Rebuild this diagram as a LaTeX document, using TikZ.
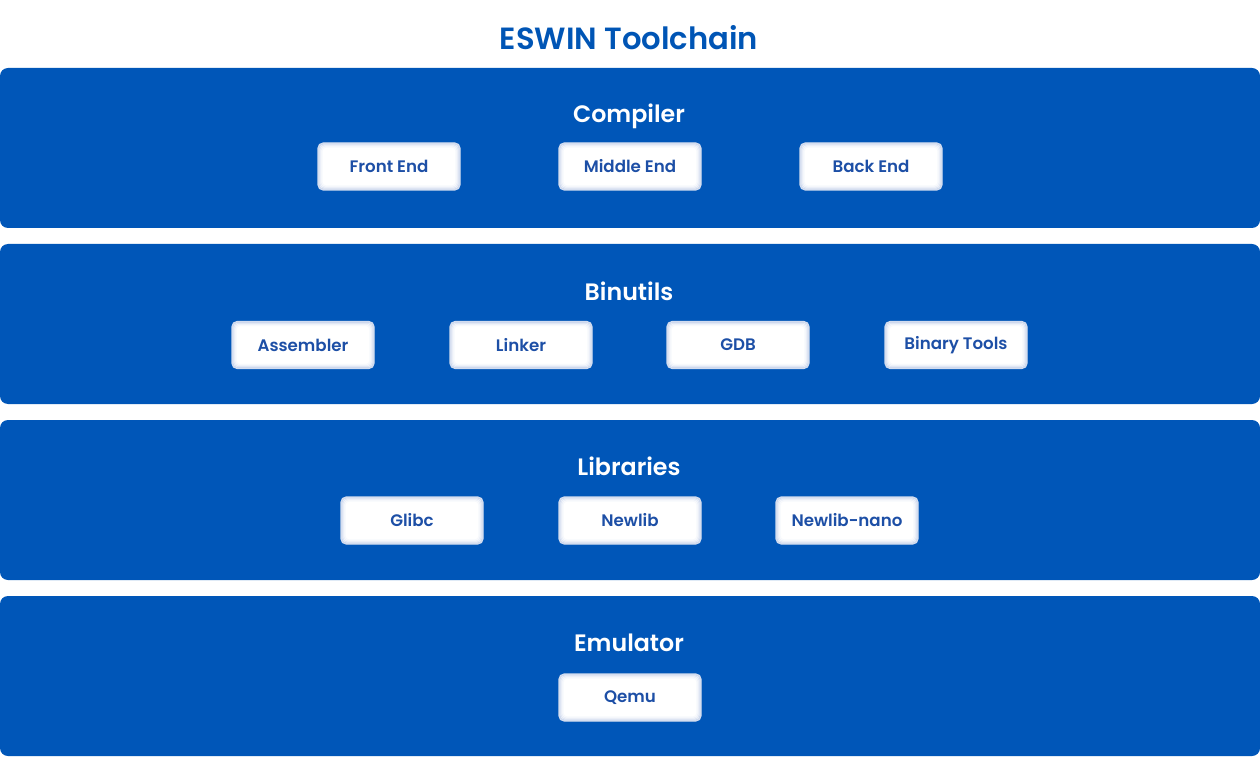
\documentclass[tikz,border=0pt]{standalone}
\usepackage{fontspec}
\setmainfont{Poppins}
\newfontfamily\boxfont{Poppins SemiBold}
\usetikzlibrary{positioning}
\definecolor{bandblue}{HTML}{0056B8}
\definecolor{titleblue}{HTML}{0055B5}
\definecolor{boxtext}{HTML}{1D4FA6}
\definecolor{boxedge}{HTML}{BFCDE8}

\tikzset{
  band/.style={fill=bandblue, draw=none, rounded corners=6},
  bandtitle/.style={text=white, font=\boxfont\fontsize{17.8}{21}\selectfont},
  toolbox/.style={rectangle, rounded corners=4, fill=white, draw=boxedge!70, line width=1,
    minimum width=142*0.75pt, minimum height=47*0.75pt, inner sep=0pt,
    text=boxtext, font=\boxfont\fontsize{12.5}{14}\selectfont,
    path picture={
      \foreach \i/\c in {1/80,2/50,3/28,4/12}{
        \draw[boxedge!\c, line width=0.8pt, rounded corners=3]
          ([shift={(\i*0.75pt,\i*0.75pt)}]path picture bounding box.south west)
          rectangle ([shift={(-\i*0.75pt,-\i*0.75pt)}]path picture bounding box.north east);
      }
    }},
}

\begin{document}
\begin{tikzpicture}[x=0.75pt, y=-0.75pt]

\useasboundingbox (0,0) rectangle (1260,759);

\node[text=titleblue, font=\boxfont\fontsize{23}{27}\selectfont] (title) at (629,38) {ESWIN Toolchain};

% bands
\draw[band] (0,68) rectangle (1260,228);
\draw[band] (0,244) rectangle (1260,404);
\draw[band] (0,420) rectangle (1260,580);
\draw[band] (0,596) rectangle (1260,756);

% compiler
\node[bandtitle] (compiler) at (629,116) {Compiler};
\node[toolbox] (frontend) at (389,166.5) {Front End};
\node[toolbox] (middleend) at (630,166.5) {Middle End};
\node[toolbox] (backend) at (871,166.5) {Back End};

% binutils
\node[bandtitle] (binutils) at (629,291) {Binutils};
\node[toolbox] (assembler) at (303,345) {Assembler};
\node[toolbox] (linker) at (521,345) {Linker};
\node[toolbox] (gdb) at (738,345) {GDB};
\node[toolbox] (bintools) at (956,345) {Binary Tools};

% libraries
\node[bandtitle] (libraries) at (629,466) {Libraries};
\node[toolbox] (glibc) at (412,520.5) {Glibc};
\node[toolbox] (newlib) at (630,520.5) {Newlib};
\node[toolbox] (newlibnano) at (847,520.5) {Newlib-nano};

% emulator
\node[bandtitle] (emulator) at (629,643) {Emulator};
\node[toolbox] (qemu) at (630,697.5) {Qemu};

\end{tikzpicture}
\end{document}
